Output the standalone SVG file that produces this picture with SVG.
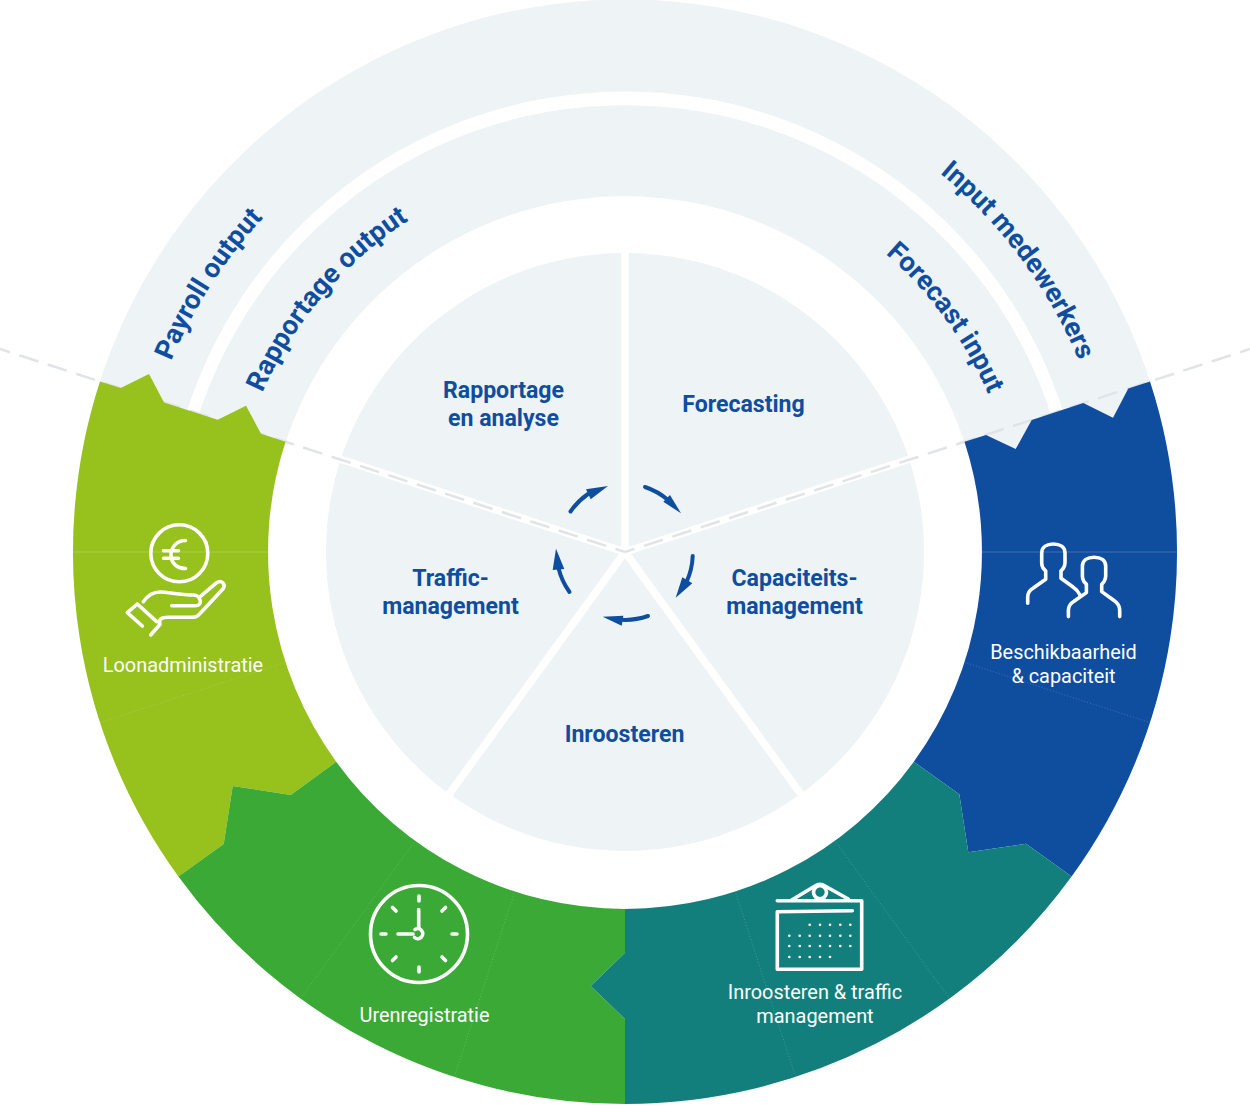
<svg xmlns="http://www.w3.org/2000/svg" width="1250" height="1106" viewBox="0 0 1250 1106">
<style>
text{font-family:Roboto,"Liberation Sans",sans-serif}
.b{font-size:23.100px;font-weight:700;fill:#0F4E9F;text-anchor:middle}
.c{font-size:27.200px;font-weight:700;fill:#0F4E9F}
.w{font-size:19.900px;fill:#fff;text-anchor:middle}
.l{fill:#EEF3F6}
.d{fill:none;stroke:#E0E4E8;stroke-width:2.5;stroke-dasharray:20 9.85;stroke-dashoffset:10}
.s{fill:none;stroke:#fff;stroke-width:7.5}
.i{fill:none;stroke:#fff;stroke-width:3.6;stroke-linecap:round;stroke-linejoin:round}
.f{fill:none;stroke:#fff;stroke-opacity:.2;stroke-width:1}
.o{stroke-dasharray:1 2}
.a{fill:none;stroke:#0F4E9F;stroke-width:4;stroke-linecap:round}
.h{fill:#0F4E9F}
</style>
<defs>
<path id="p492" d="M132.500 552A492.500 492.500 0 0 1 1117.500 552"/>
<path id="p396" d="M229 552A396 396 0 0 1 1021 552"/>
</defs>
<rect width="1250" height="1106" fill="#fff"/>
<g id="output-rings">
<path class="l" d="M85 437A552 552 0 0 1 1165 437L1075 456A460 460 0 0 0 175 456Z"/>
<path class="l" d="M187 459A448 448 0 0 1 1063 459L974 478A357 357 0 0 0 276 478Z"/>
<text class="c"><textPath href="#p492" startOffset="196">Payroll output</textPath></text>
<text class="c"><textPath href="#p396" startOffset="164">Rapportage output</textPath></text>
<text class="c"><textPath href="#p492" startOffset="1115">Input medewerkers</textPath></text>
<text class="c"><textPath href="#p396" startOffset="906">Forecast input</textPath></text>
</g>
<g id="pie">
<circle class="l" cx="625" cy="552" r="299"/>
<path class="s" d="M625 552V250M625 552L447 797M625 552L803 797M625 552L337 458M625 552L913 458"/>
</g>
<g id="connectors">
<path class="d" d="M625 552L0 349"/>
<path class="d" d="M625 552L1250 349"/>
<path class="a" d="M645 487A68 68 0 0 1 668 500"/><path class="h" d="M681 513.3L670 495L663.3 501.7Z"/>
<path class="a" d="M692.7 556A68 68 0 0 1 686.5 582"/><path class="h" d="M675.7 597.7L692.3 583.3L682.3 577.3Z"/>
<path class="a" d="M648 616A68 68 0 0 1 621 619.8"/><path class="h" d="M602.7 616.7L621.7 625.7L623.3 615.7Z"/>
<path class="a" d="M569.5 592A68 68 0 0 1 558.5 568"/><path class="h" d="M556 548.7L552.7 570L564.3 569Z"/>
<path class="a" d="M570.5 511.5A68 68 0 0 1 588 494"/><path class="h" d="M608 486L586 489.3L590.7 499.3Z"/>
</g>
<g id="node-forecasting"><text class="b" x="743.500" y="411.500">Forecasting</text></g>
<g id="node-rapportage"><text class="b" x="503.500" y="397.500">Rapportage</text><text class="b" x="503.500" y="425.500">en analyse</text></g>
<g id="node-capaciteit"><text class="b" x="794.500" y="585.500">Capaciteits-</text><text class="b" x="794.500" y="613.500">management</text></g>
<g id="node-traffic"><text class="b" x="450.500" y="585.500">Traffic-</text><text class="b" x="450.500" y="613.500">management</text></g>
<g id="node-inroosteren"><text class="b" x="624.500" y="741.500">Inroosteren</text></g>
<g id="node-loonadministratie">
<path fill="#97C11C" d="M100 381.400L120.700 388L149 374L164 402.400L217.700 419.800L246 405.700L261 433.700L285.500 441.700A357 357 0 0 0 336.200 761.800L290.700 795L232.700 786L223.700 844L178.400 876.500A552 552 0 0 1 100 381.400Z"/>
<path class="f" d="M73 552H268"/><path class="f o" d="M100 722.600L285.500 662.300"/>
<circle class="i" cx="179.300" cy="553.300" r="28.500"/>
<path class="i" d="M185.500 540.500C176 540.500 171 548 171 555C171 562 176 568.500 185.500 568.500M163.500 550.700H178.500M163.500 558.300H178.500"/>
<path class="i" d="M142.300 626L127.300 612.700L137.300 604L156.700 621.700M143.300 601.700C148 595 153 592 160 592C168 592 180 595 193.300 595C201 595 203 605.700 196 605.700H171.700M199.300 597.300L216.700 582.700C221 579.500 226 584 223.300 588.500L201.700 611.700C199 615 197 617.300 192 617.300H168C162 617.300 158 619 160 624.300L150.700 635"/>
<text class="w" x="183" y="671.700">Loonadministratie</text>
</g>
<g id="node-beschikbaarheid">
<path fill="#0F4E9F" d="M1150 381.400L1128.300 388.500L1113 417.700L1083.300 403L1031.700 420L1015.700 449L986 435L964.500 441.700A357 357 0 0 1 913.800 761.800L959.300 794.300L968.300 852.300L1026 843.700L1071.600 876.500A552 552 0 0 0 1150 381.400Z"/>
<path class="f" d="M982 552H1177"/><path class="f o" d="M964.500 662.300L1150 722.600"/>
<path class="i" d="M1027.700 603.300V597C1027.700 592 1030 590 1033.300 588L1045.700 579.300V571L1043 568C1042 566 1041.700 565 1041.700 563V553C1041.700 547 1047 544 1053.300 544C1060 544 1065 547 1065 553V563C1065 565 1064.500 566 1063.500 568L1061 571V578.300L1073 587C1076 589 1078.500 592 1080 595"/>
<path class="i" d="M1068.400 616.600V610.300C1068.400 605.300 1070.700 603.300 1074 601.300L1086.400 592.600V584.300L1083.700 581.300C1082.700 579.300 1082.400 578.300 1082.400 576.300V566.300C1082.400 560.300 1087.700 557.300 1094 557.300C1100.700 557.300 1105.700 560.300 1105.700 566.300V576.300C1105.700 578.300 1105.200 579.300 1104.200 581.300L1101.700 584.300V591.600L1113.700 600.300C1117.700 603 1119.700 606 1119.700 610.300V616.600"/>
<text class="w" x="1063.500" y="658.700">Beschikbaarheid</text><text class="w" x="1063.500" y="682.700">&amp; capaciteit</text>
</g>
<g id="node-urenregistratie">
<path fill="#3BA935" d="M336.200 761.800L290.700 795L232.700 786L223.700 844L178.400 876.500A552 552 0 0 0 625 1104V1019L590.700 986L625 952.700V909A357 357 0 0 1 336.200 761.800Z"/>
<path class="f o" d="M300.500 998.600L415 841M454.400 1077L514.700 891.500"/>
<circle class="i" cx="419" cy="934" r="48.500"/>
<path class="i" d="M419 896V901M419 967V972M381 934H386M452 934H457M392.500 907.500L396 911M445.500 907.500L442 911M392.500 960.500L396 957M445.500 960.500L442 957M418.700 909.500V928M398 934H413"/>
<path class="i" d="M415 929.500A5 5 0 1 1 414.500 937.500"/>
<text class="w" x="424.500" y="1021.700">Urenregistratie</text>
</g>
<g id="node-inroosteren-traffic">
<path fill="#137F7D" d="M913.800 761.800L959.300 794.300L968.300 852.300L1026 843.700L1071.600 876.500A552 552 0 0 1 625 1104V1019L590.700 986L625 952.700V909A357 357 0 0 0 913.800 761.800Z"/>
<path class="f o" d="M949.500 998.600L835 841M795.600 1077L735.300 891.500"/>
<path class="i" d="M777.300 900.700H861.700V969.300H777.300V911.700L852.300 910.700M791.700 900L815 886C818 884 822 884 825 886L848.300 899"/>
<circle class="i" cx="820" cy="892.300" r="6.500"/>
<g fill="#fff"><circle cx="809.700" cy="924.700" r="1.300"/><circle cx="820" cy="924.700" r="1.300"/><circle cx="830" cy="924.700" r="1.300"/><circle cx="840.300" cy="924.700" r="1.300"/><circle cx="850.300" cy="924.700" r="1.300"/><circle cx="789.300" cy="935.700" r="1.300"/><circle cx="799.700" cy="935.700" r="1.300"/><circle cx="809.700" cy="935.700" r="1.300"/><circle cx="820" cy="935.700" r="1.300"/><circle cx="830" cy="935.700" r="1.300"/><circle cx="840.300" cy="935.700" r="1.300"/><circle cx="850.300" cy="935.700" r="1.300"/><circle cx="789.300" cy="946" r="1.300"/><circle cx="799.700" cy="946" r="1.300"/><circle cx="809.700" cy="946" r="1.300"/><circle cx="820" cy="946" r="1.300"/><circle cx="830" cy="946" r="1.300"/><circle cx="840.300" cy="946" r="1.300"/><circle cx="850.300" cy="946" r="1.300"/><circle cx="789.300" cy="957" r="1.300"/><circle cx="799.700" cy="957" r="1.300"/><circle cx="809.700" cy="957" r="1.300"/><circle cx="820" cy="957" r="1.300"/><circle cx="830" cy="957" r="1.300"/></g>
<text class="w" x="815" y="998.500">Inroosteren &amp; traffic</text><text class="w" x="815" y="1022.500">management</text>
</g>
</svg>
